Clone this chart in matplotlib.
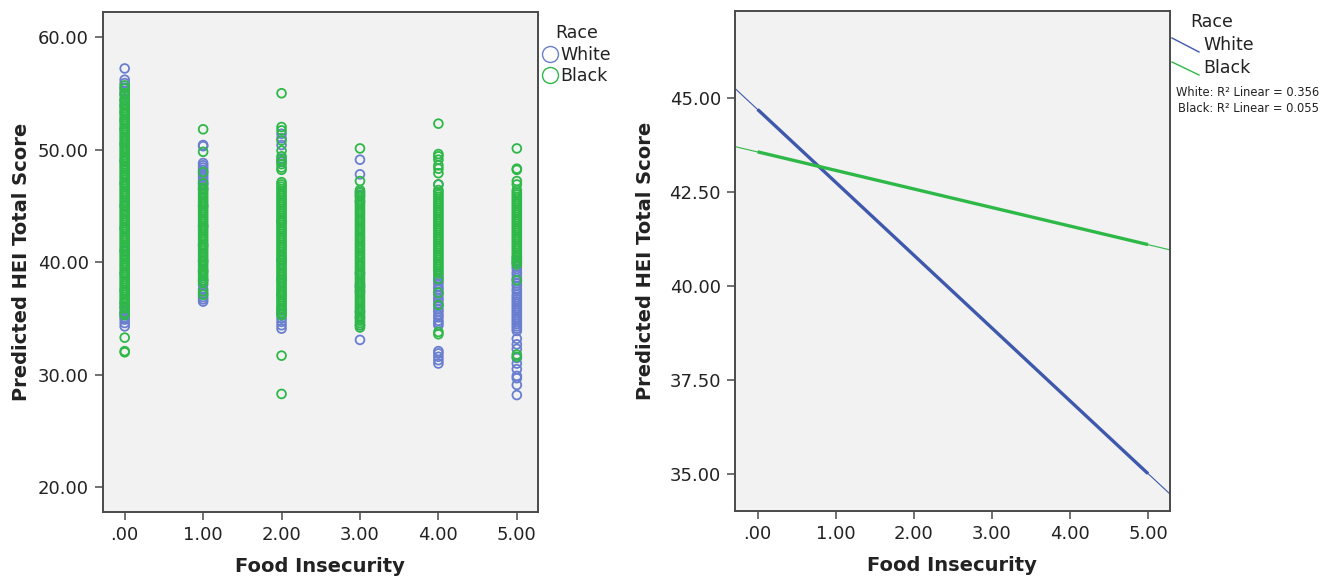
"""
plot.py - predicted HEI total score vs food insecurity, by race.

Left:  scatter of predicted scores per food-insecurity level.
Right: linear fit lines per race, with R^2 legend.
"""

import matplotlib
matplotlib.use("Agg")
import matplotlib.pyplot as plt
from matplotlib.lines import Line2D

# ── Data ───────────────────────────────────────────────────────────────────────
LEVELS = [0, 1, 2, 3, 4, 5]
TICK_LABELS = [".00", "1.00", "2.00", "3.00", "4.00", "5.00"]

# predicted scores, White respondents, one list per food-insecurity level
white_0 = [57.2, 56.2, 55.9, 55.5, 55.2, 54.9, 54.4, 53.9, 53.3, 52.6, 51.8,
           50.5, 49.0, 47.0, 45.0, 43.0, 41.0, 39.0, 37.5, 36.4, 36.0, 35.7,
           35.5, 35.3, 35.1, 34.9, 34.6, 34.3]
white_1 = [50.4, 50.3, 48.8, 48.6, 48.4, 48.2, 48.0, 47.8, 47.6, 47.4, 47.2,
           47.0, 46.8, 46.5, 45.0, 43.2, 41.5, 40.1, 39.2, 38.4, 38.0, 37.6,
           37.2, 36.9, 36.7, 36.5]
white_2 = [51.4, 51.0, 50.4, 49.2, 48.9, 43.6, 40.2, 38.5, 37.1, 35.8, 35.4,
           35.0, 34.7, 34.4, 34.1]
white_3 = [49.1, 47.8, 46.2, 45.9, 45.4, 39.0, 38.0, 37.8, 37.4, 35.6, 35.1,
           34.4, 33.1]
white_4 = [46.9, 38.8, 38.6, 38.3, 38.1, 37.8, 37.6, 37.3, 37.1, 36.8, 36.6,
           36.3, 36.1, 35.8, 35.6, 35.3, 35.1, 34.8, 34.6, 34.4, 32.1, 31.9,
           31.6, 31.3, 31.0]
white_5 = [40.4, 40.1, 39.9, 39.6, 39.4, 39.1, 38.9, 38.6, 38.4, 38.1, 37.9,
           37.6, 37.4, 37.1, 36.9, 36.7, 36.5, 36.3, 36.1, 35.9, 35.7, 35.5,
           35.3, 35.1, 34.9, 34.7, 34.5, 34.3, 34.1, 33.9, 33.2, 32.7, 32.3,
           31.5, 31.0, 30.5, 29.9, 29.7, 29.1, 28.2]

# predicted scores, Black respondents
black_0 = [55.7, 55.4, 55.0, 54.8,
           54.5, 54.3, 54.1, 53.9, 53.7, 53.5, 53.3, 53.1, 52.9, 52.7,
           52.5, 52.3, 52.1, 51.9, 51.7, 51.5, 51.3, 51.1, 50.9, 50.7,
           50.5, 50.3, 50.1, 49.9, 49.7, 49.5, 49.3, 49.1, 48.9, 48.7,
           48.5, 48.3, 48.1, 47.9, 47.7, 47.5, 47.3, 47.1, 46.9, 46.7,
           46.5, 46.3, 46.1, 45.9, 45.7, 45.5, 45.3, 45.1, 44.9, 44.7,
           44.5, 44.3, 44.1, 43.9, 43.7, 43.5, 43.3, 43.1, 42.9, 42.7,
           42.5, 42.3, 42.1, 41.9, 41.7, 41.5, 41.3, 41.1, 40.9, 40.7,
           40.5, 40.3, 40.1, 39.9, 39.7, 39.5, 39.3, 39.1, 38.9, 38.7,
           38.5, 38.3, 38.1, 37.9, 37.7, 37.5, 37.3, 37.1, 36.9, 36.7,
           36.5, 36.3, 36.1, 35.9, 35.5, 35.3, 33.3, 32.1, 32.0]
black_1 = [51.8, 49.8, 48.0, 47.0,
           46.6, 46.4, 46.2, 46.0, 45.8, 45.6, 45.4, 45.2, 45.0, 44.8,
           44.6, 44.4, 44.2, 44.0, 43.8, 43.6, 43.4, 43.2, 43.0, 42.8,
           42.6, 42.4, 42.2, 42.0, 41.8, 41.6, 41.4, 41.2, 41.0, 40.8,
           40.6, 40.4, 40.2, 40.0, 39.8, 39.6, 39.4, 39.2, 39.0, 38.8,
           38.6, 38.4, 38.2, 37.4, 37.1]
black_2 = [55.0, 52.0, 51.7, 50.8, 49.9, 49.4, 49.0, 48.7, 48.4, 48.2,
           47.1, 46.9, 46.7, 46.5, 46.3, 46.1, 45.9, 45.7, 45.5, 45.3,
           45.1, 44.9, 44.7, 44.5, 44.3, 44.1, 43.9, 43.7, 43.5, 43.3,
           43.1, 42.9, 42.7, 42.5, 42.3, 42.1, 41.9, 41.7, 41.5, 41.3,
           41.1, 40.9, 40.7, 40.5, 40.3, 40.1, 39.9, 39.7, 39.5, 39.3,
           39.1, 38.9, 38.7, 38.5, 38.3, 38.1, 37.9, 37.7, 37.5, 37.3,
           37.1, 36.9, 36.7, 36.5, 36.3, 36.1, 35.9, 35.7, 35.5, 35.3,
           31.7, 28.3]
black_3 = [50.1, 47.2,
           46.4, 46.2, 46.0, 45.8, 45.6, 45.4, 45.2, 45.0, 44.8, 44.6,
           44.4, 44.2, 44.0, 43.8, 43.6, 43.4, 43.2, 43.0, 42.8, 42.6,
           42.4, 42.2, 42.0, 41.8, 41.6, 41.4, 41.2, 41.0, 40.8, 40.6,
           40.4, 40.2, 40.0, 39.8, 39.6, 39.4, 39.2, 39.0, 38.8, 38.6,
           38.4, 38.2, 38.0, 37.8, 37.6, 37.4, 37.2, 37.0, 36.8, 36.6,
           36.4, 36.2, 36.0, 35.8, 35.6, 35.4, 35.2, 35.0, 34.8, 34.6,
           34.4, 34.2]
black_4 = [52.3, 49.6, 49.4, 49.1, 48.6, 48.3, 47.9, 46.9,
           46.4, 46.2, 46.0, 45.8, 45.6, 45.4, 45.2, 45.0, 44.8, 44.6,
           44.4, 44.2, 44.0, 43.8, 43.6, 43.4, 43.2, 43.0, 42.8, 42.6,
           42.4, 42.2, 42.0, 41.8, 41.6, 41.4, 41.2, 41.0, 40.8, 40.6,
           40.4, 40.2, 40.0, 39.8, 39.6, 39.4, 39.2, 39.0,
           38.5, 37.3, 36.2, 33.8, 33.6]
black_5 = [50.1, 48.3, 48.2, 47.2, 46.9,
           46.4, 46.2, 46.0, 45.8, 45.6, 45.4, 45.2, 45.0, 44.8, 44.6,
           44.4, 44.2, 44.0, 43.8, 43.6, 43.4, 43.2, 43.0, 42.8, 42.6,
           42.4, 42.2, 42.0, 41.8, 41.6, 41.4, 41.2, 41.0, 40.8, 40.6,
           40.4, 40.2, 40.0, 39.8, 38.4, 31.8, 31.6]

WHITE_SCORES = [white_0, white_1, white_2, white_3, white_4, white_5]
BLACK_SCORES = [black_0, black_1, black_2, black_3, black_4, black_5]

# fit lines: observed range (thick) and full axis extension (thin)
FIT_X       = [0.0, 5.0]
WHITE_FIT   = [44.70, 35.00]
BLACK_FIT   = [43.57, 41.10]
FIT_X_EXT   = [-0.29, 5.28]
WHITE_EXT   = [45.26, 34.46]
BLACK_EXT   = [43.71, 40.96]
R2_TEXT     = ["White: R\u00b2 Linear = 0.356", "Black: R\u00b2 Linear = 0.055"]

LEFT_YTICKS  = [20, 30, 40, 50, 60]
RIGHT_YTICKS = [35.0, 37.5, 40.0, 42.5, 45.0]

# ── Style ──────────────────────────────────────────────────────────────────────
W, H = 1336, 579
BLUE_PT   = "#6a7ed0"
BLUE_LN   = "#3e58ac"
GREEN     = "#2eb848"
PANEL_BG  = "#f2f2f2"
FRAME     = "#4a4a4a"
TXT       = "#222222"

plt.rcParams["font.family"] = ["DejaVu Sans"]


def px(x, y):
    """pixel position (from top-left) -> figure fraction"""
    return x / W, 1 - y / H


def style_axes(ax):
    ax.set_facecolor(PANEL_BG)
    for sp in ax.spines.values():
        sp.set_color(FRAME)
        sp.set_linewidth(1.4)
    ax.tick_params(direction="out", length=6, width=1.1, color=FRAME,
                   labelsize=13, labelcolor=TXT, pad=4)
    ax.set_xticks(LEVELS)
    ax.set_xticklabels(TICK_LABELS)
    ax.set_xlabel("Food Insecurity", fontsize=14, fontweight="bold", color=TXT)
    ax.set_ylabel("Predicted HEI Total Score", fontsize=14,
                  fontweight="bold", color=TXT)


fig = plt.figure(figsize=(W / 100, H / 100), dpi=100)
ax1 = fig.add_axes([0.0769, 0.1150, 0.3258, 0.8640])
ax2 = fig.add_axes([0.5501, 0.1170, 0.3256, 0.8640])

# ── Left: scatter ──────────────────────────────────────────────────────────────
for lvl, vals in zip(LEVELS, WHITE_SCORES):
    ax1.scatter([lvl] * len(vals), vals, s=40, facecolors="none",
                edgecolors=BLUE_PT, linewidths=1.3, zorder=2)
for lvl, vals in zip(LEVELS, BLACK_SCORES):
    ax1.scatter([lvl] * len(vals), vals, s=40, facecolors="none",
                edgecolors=GREEN, linewidths=1.3, zorder=3)

ax1.set_xlim(-0.28, 5.27)
ax1.set_ylim(17.78, 62.2)
ax1.set_yticks(LEFT_YTICKS)
ax1.set_yticklabels([f"{v:.2f}" for v in LEFT_YTICKS])
style_axes(ax1)
ax1.yaxis.set_label_coords(-0.165, 0.5)
ax1.xaxis.set_label_coords(0.5, -0.09)

handles = [
    Line2D([], [], marker="o", ls="none", ms=11.5, mfc="none", mec=BLUE_PT,
           mew=1.0, label="White"),
    Line2D([], [], marker="o", ls="none", ms=11.5, mfc="none", mec=GREEN,
           mew=1.0, label="Black"),
]
leg = fig.legend(handles=handles, title="Race", loc="upper left",
                 bbox_to_anchor=px(530, 12), frameon=False, fontsize=12.5,
                 title_fontsize=12.5, handlelength=0.9, handletextpad=0.15,
                 labelspacing=0.2, borderpad=0.2)
for t in leg.get_texts():
    t.set_color(TXT)
leg.get_title().set_color(TXT)

# ── Right: fit lines ───────────────────────────────────────────────────────────
ax2.plot(FIT_X_EXT, WHITE_EXT, color=BLUE_LN, lw=0.8, zorder=2)
ax2.plot(FIT_X_EXT, BLACK_EXT, color=GREEN, lw=0.8, zorder=2)
ax2.plot(FIT_X, WHITE_FIT, color=BLUE_LN, lw=2.4, zorder=3,
         solid_capstyle="butt")
ax2.plot(FIT_X, BLACK_FIT, color=GREEN, lw=2.4, zorder=3,
         solid_capstyle="butt")

ax2.set_xlim(-0.29, 5.28)
ax2.set_ylim(34.0, 47.32)
ax2.set_yticks(RIGHT_YTICKS)
ax2.set_yticklabels([f"{v:.2f}" for v in RIGHT_YTICKS])
style_axes(ax2)
ax2.yaxis.set_label_coords(-0.183, 0.5)
ax2.xaxis.set_label_coords(0.5, -0.09)

# legend with short diagonal strokes, as SPSS draws it
fig.text(*px(1212, 22), "Race", fontsize=12.5, color=TXT,
         ha="center", va="center")
for (y0, y1, ty), col, lab in [((38, 52, 45), BLUE_LN, "White"),
                               ((62, 75, 68), GREEN, "Black")]:
    (xa, ya), (xb, yb) = px(1172, y0), px(1199, y1)
    fig.add_artist(Line2D([xa, xb], [ya, yb], color=col, lw=1.0))
    fig.text(*px(1203, ty), lab, fontsize=12.5, color=TXT,
             ha="left", va="center")
fig.text(*px(1248, 93), R2_TEXT[0], fontsize=8.3, color=TXT,
         ha="center", va="center")
fig.text(*px(1248, 108), R2_TEXT[1], fontsize=8.3, color=TXT,
         ha="center", va="center")

fig.savefig("out.png", dpi=100)
